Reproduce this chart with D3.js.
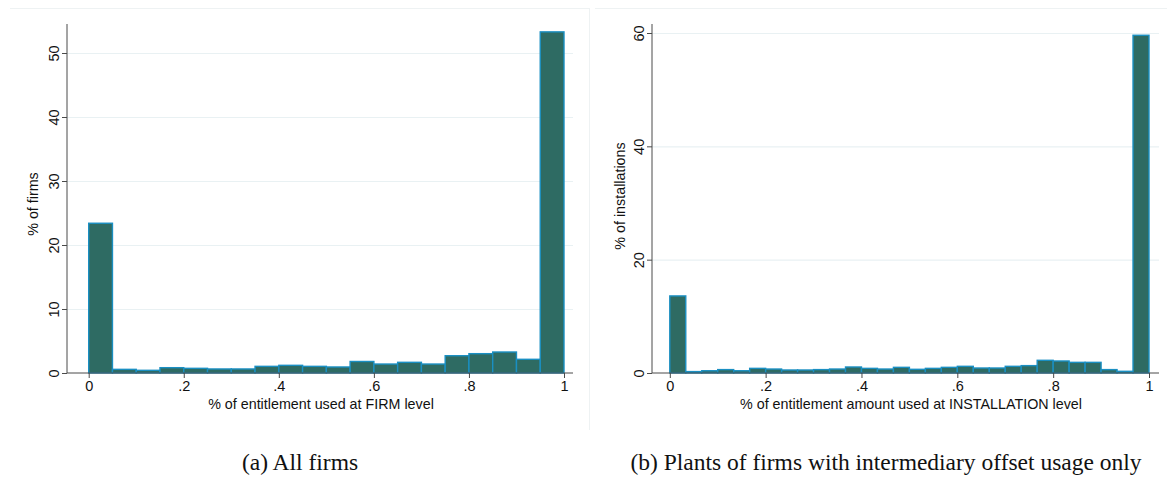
<!DOCTYPE html>
<html>
<head>
<meta charset="utf-8">
<script src="https://cdn.jsdelivr.net/npm/d3@7"></script>
<style>
  html, body { margin: 0; padding: 0; background: #fff; }
  svg { display: block; }
</style>
</head>
<body>
<svg id="chart" width="1167" height="477"></svg>
<script>
// ---- Data ----
// Panel (a): 20 bins of width 0.05 over [0,1], % of firms
const firmBinCount = 20;
const firmValues = [23.4, 0.57, 0.42, 0.83, 0.73, 0.63, 0.63, 1.04, 1.2, 1.04,
                    0.94, 1.8, 1.4, 1.67, 1.4, 2.7, 3.02, 3.28, 2.14, 53.3];
const firmYTicks = [0, 10, 20, 30, 40, 50];

// Panel (b): 30 bins of width 1/30 over [0,1], % of installations
const instBinCount = 30;
const instValues = [13.6, 0.25, 0.4, 0.6, 0.4, 0.82, 0.7, 0.53, 0.53, 0.6,
                    0.7, 1.06, 0.82, 0.7, 1.0, 0.65, 0.82, 1.0, 1.18, 0.88,
                    0.88, 1.18, 1.3, 2.24, 2.12, 1.88, 1.88, 0.6, 0.3, 59.6];
const instYTicks = [0, 20, 40, 60];

const xTickValues = [0, 0.2, 0.4, 0.6, 0.8, 1];
const xTickLabels = ["0", ".2", ".4", ".6", ".8", "1"];

const captions = ["(a) All firms", "(b) Plants of firms with intermediary offset usage only"];
const yTitles = ["% of firms", "% of installations"];
const xTitles = ["% of entitlement used at FIRM level", "% of entitlement amount used at INSTALLATION level"];

// ---- Drawing ----
const svg = d3.select("#chart");
const FILL = "#2e6b63", STROKE = "#1a8fc2", GRID = "#e9f1f3", AXIS = "#4a4a4a";
const sansFont = "'Liberation Sans', Arial, sans-serif";

// panel frames
svg.append("line").attr("x1", 10).attr("x2", 589).attr("y1", 8.5).attr("y2", 8.5)
  .attr("stroke", "#eef2f3").attr("stroke-width", 1);
svg.append("line").attr("x1", 595).attr("x2", 1167).attr("y1", 8.5).attr("y2", 8.5)
  .attr("stroke", "#eef2f3").attr("stroke-width", 1);
svg.append("line").attr("x1", 589.5).attr("x2", 589.5).attr("y1", 8).attr("y2", 430)
  .attr("stroke", "#eef2f3").attr("stroke-width", 1);

function drawPanel(cfg) {
  const g = svg.append("g");
  const x = d3.scaleLinear().domain([0, 1]).range([cfg.x0, cfg.x1]);
  const y = d3.scaleLinear().domain([0, cfg.yMax]).range([cfg.yBottom, cfg.yTop]);

  // gridlines
  g.selectAll(".grid").data(cfg.yTicks.filter(d => d > 0)).join("line")
    .attr("x1", cfg.axisX).attr("x2", cfg.gridEnd)
    .attr("y1", d => y(d) + 0.5).attr("y2", d => y(d) + 0.5)
    .attr("stroke", GRID).attr("stroke-width", 1.2);

  // bars
  const w = 1 / cfg.binCount;
  g.selectAll(".bar").data(cfg.values).join("rect")
    .attr("x", (d, i) => x(i * w))
    .attr("width", (d, i) => x((i + 1) * w) - x(i * w))
    .attr("y", d => y(d))
    .attr("height", d => y(0) - y(d))
    .attr("fill", FILL)
    .attr("stroke", STROKE)
    .attr("stroke-width", 1.4);

  // y axis
  const yAxis = d3.axisLeft(y).tickValues(cfg.yTicks).tickSize(5).tickFormat(d3.format("d"));
  const ya = g.append("g").attr("transform", `translate(${cfg.axisX},0)`).call(yAxis);
  ya.select(".domain").attr("d", `M0,${cfg.yBottom}V${cfg.yTop}`).attr("stroke", AXIS);
  ya.selectAll(".tick line").attr("stroke", AXIS);
  ya.selectAll(".tick text")
    .attr("font-family", sansFont).attr("font-size", 14.5).attr("fill", "#111")
    .attr("transform", "rotate(-90)")
    .attr("x", 0).attr("y", -8).attr("dy", 0)
    .attr("text-anchor", "middle");

  // x axis
  const xAxis = d3.axisBottom(x).tickValues(xTickValues).tickSize(5)
    .tickFormat((d, i) => xTickLabels[i]);
  const xa = g.append("g").attr("transform", `translate(0,${cfg.yBottom})`).call(xAxis);
  xa.select(".domain").attr("d", `M${cfg.axisX},0H${cfg.gridEnd}`).attr("stroke", AXIS);
  xa.selectAll(".tick line").attr("stroke", AXIS);
  xa.selectAll(".tick text")
    .attr("font-family", sansFont).attr("font-size", 14.5).attr("fill", "#111")
    .attr("y", 8).attr("dy", "0.71em");

  // titles
  g.append("text")
    .attr("transform", `translate(${cfg.yTitleX},${cfg.yTitleY}) rotate(-90)`)
    .attr("text-anchor", "middle")
    .attr("font-family", sansFont).attr("font-size", 14.3).attr("fill", "#111")
    .text(cfg.yTitle);
  g.append("text")
    .attr("x", cfg.xTitleX).attr("y", 409)
    .attr("text-anchor", "middle")
    .attr("font-family", sansFont).attr("font-size", 14.3).attr("fill", "#111")
    .text(cfg.xTitle);

  // caption
  g.append("text")
    .attr("x", cfg.captionX).attr("y", 470)
    .attr("text-anchor", "middle")
    .attr("font-family", "'Liberation Serif', 'Times New Roman', serif")
    .attr("font-size", 23.5).attr("fill", "#111")
    .text(cfg.caption);
}

drawPanel({
  x0: 88.7, x1: 564, axisX: 67, gridEnd: 573,
  yBottom: 373, yTop: 24, yMax: (373 - 24) / 6.4,
  yTicks: firmYTicks, values: firmValues, binCount: firmBinCount,
  yTitle: yTitles[0], xTitle: xTitles[0], yTitleX: 38, yTitleY: 204, xTitleX: 321,
  caption: captions[0], captionX: 300
});

drawPanel({
  x0: 669.8, x1: 1149, axisX: 652, gridEnd: 1159,
  yBottom: 373, yTop: 24, yMax: (373 - 24) / (340 / 60),
  yTicks: instYTicks, values: instValues, binCount: instBinCount,
  yTitle: yTitles[1], xTitle: xTitles[1], yTitleX: 625, yTitleY: 196, xTitleX: 911,
  caption: captions[1], captionX: 886
});
</script>
</body>
</html>
